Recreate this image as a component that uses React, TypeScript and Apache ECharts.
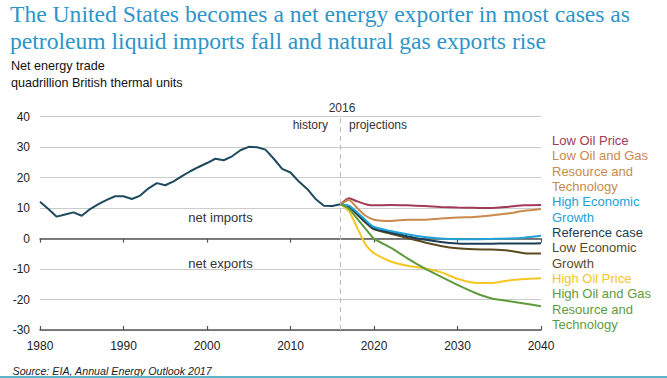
import React, { useEffect, useRef } from "react";
import * as echarts from "echarts";

const titleLines = [
  "The United States becomes a net energy exporter in most cases as",
  "petroleum liquid imports fall and natural gas exports rise",
];
const subtitleLines = ["Net energy trade", "quadrillion British thermal units"];
const sourceText = "Source: EIA, Annual Energy Outlook 2017";

const histYears = [
  1980, 1981, 1982, 1983, 1984, 1985, 1986, 1987, 1988, 1989, 1990, 1991, 1992,
  1993, 1994, 1995, 1996, 1997, 1998, 1999, 2000, 2001, 2002, 2003, 2004, 2005,
  2006, 2007, 2008, 2009, 2010, 2011, 2012, 2013, 2014, 2015, 2016,
];
const histValues = [
  12.1, 9.7, 7.2, 7.9, 8.6, 7.5, 9.7, 11.3, 12.7, 13.9, 13.9, 13.0, 14.1, 16.5,
  18.2, 17.5, 18.8, 20.5, 22.1, 23.5, 24.8, 26.2, 25.7, 27.0, 29.0, 30.1, 30.0,
  29.2, 26.2, 22.9, 21.7, 18.7, 16.3, 13.0, 10.8, 10.7, 11.3,
];

const projYears = [2016, 2017, 2018, 2019, 2020, 2022, 2024, 2026, 2028, 2030, 2032, 2034, 2036, 2038, 2040];
const lowOilPrice = [11.3, 13.2, 12.2, 11.3, 10.9, 11.0, 10.9, 10.7, 10.4, 10.2, 10.1, 10.0, 10.4, 10.9, 11.0];
const lowOilGas = [11.3, 12.7, 10.0, 7.5, 6.2, 5.8, 6.2, 6.2, 6.6, 6.9, 7.1, 7.6, 8.2, 9.1, 9.7];
const highEcon = [11.3, 10.8, 8.6, 6.0, 3.8, 2.5, 1.4, 0.5, 0.0, -0.2, -0.2, -0.1, 0.0, 0.3, 0.9];
const reference = [11.3, 10.6, 8.2, 5.5, 3.3, 2.0, 0.8, -0.3, -1.1, -1.6, -1.7, -1.7, -1.6, -1.6, -1.5];
const lowEcon = [11.3, 10.4, 7.8, 5.2, 3.0, 1.6, 0.2, -1.2, -2.4, -3.2, -3.5, -3.6, -3.9, -4.8, -4.9];
const highOilPrice = [11.3, 9.0, 3.5, -2.0, -4.8, -7.5, -8.9, -9.7, -11.0, -13.2, -14.5, -14.6, -13.8, -13.3, -13.0];
const highOilGas = [11.3, 9.8, 6.5, 3.2, 0.0, -3.0, -6.5, -9.7, -12.5, -15.2, -17.7, -19.6, -20.5, -21.3, -22.2];

const yTicks = { min: -30, max: 40, interval: 10 };
const xTicks = { min: 1980, max: 2040, interval: 10 };

const labelLines = [
  { text: "Low Oil Price", key: "lowOilPrice" },
  { text: "Low Oil and Gas", key: "lowOilGas" },
  { text: "Resource and", key: "lowOilGas" },
  { text: "Technology", key: "lowOilGas" },
  { text: "High Economic", key: "highEcon" },
  { text: "Growth", key: "highEcon" },
  { text: "Reference case", key: "reference" },
  { text: "Low Economic", key: "lowEcon" },
  { text: "Growth", key: "lowEcon" },
  { text: "High Oil Price", key: "highOilPrice" },
  { text: "High Oil and Gas", key: "highOilGas" },
  { text: "Resource and", key: "highOilGas" },
  { text: "Technology", key: "highOilGas" },
];

const colors: Record<string, string> = {
  history: "#1e4a5e",
  lowOilPrice: "#a33a55",
  lowOilGas: "#c98a4b",
  highEcon: "#22a2d8",
  reference: "#1b3d55",
  lowEcon: "#5a4a1e",
  highOilPrice: "#f5c623",
  highOilGas: "#5f9b3d",
};

const projSeries: { key: string; values: number[] }[] = [
  { key: "lowOilPrice", values: lowOilPrice },
  { key: "lowOilGas", values: lowOilGas },
  { key: "lowEcon", values: lowEcon },
  { key: "reference", values: reference },
  { key: "highEcon", values: highEcon },
  { key: "highOilPrice", values: highOilPrice },
  { key: "highOilGas", values: highOilGas },
];

const SANS = "'Liberation Sans', Arial, sans-serif";
const SERIF = "'Liberation Serif', 'Times New Roman', serif";

export default function App() {
  const ref = useRef<HTMLDivElement>(null);
  useEffect(() => {
    if (!ref.current) return;
    const chart = echarts.init(ref.current, null, { renderer: "svg" });
    const baseX = {
      type: "value" as const,
      min: xTicks.min,
      max: xTicks.max,
      interval: xTicks.interval,
      splitLine: { show: false },
    };
    const graphics: any[] = [];
    titleLines.forEach((t, i) => {
      graphics.push({
        type: "text",
        left: 10,
        top: 1.5 + i * 27,
        style: { text: t, font: `23.6px ${SERIF}`, fill: "#2e95c9" },
      });
    });
    subtitleLines.forEach((t, i) => {
      graphics.push({
        type: "text",
        x: 11,
        y: 65.5 + i * 17.5,
        style: { text: t, font: `12.6px ${SANS}`, fill: "#111", verticalAlign: "middle" },
      });
    });
    labelLines.forEach((l, i) => {
      graphics.push({
        type: "text",
        x: 552,
        y: 140.5 + i * 15.33,
        style: { text: l.text, font: `13px ${SANS}`, fill: colors[l.key], verticalAlign: "middle" },
      });
    });
    graphics.push(
      { type: "text", x: 342, y: 107.5, style: { text: "2016", font: `12px ${SANS}`, fill: "#333", align: "center", verticalAlign: "middle" } },
      { type: "text", x: 328, y: 124.5, style: { text: "history", font: `12px ${SANS}`, fill: "#333", align: "right", verticalAlign: "middle" } },
      { type: "text", x: 349, y: 124.5, style: { text: "projections", font: `12px ${SANS}`, fill: "#333", align: "left", verticalAlign: "middle" } },
      { type: "text", x: 220.5, y: 217.5, style: { text: "net imports", font: `13px ${SANS}`, fill: "#333", align: "center", verticalAlign: "middle" } },
      { type: "text", x: 220.5, y: 263.5, style: { text: "net exports", font: `13px ${SANS}`, fill: "#333", align: "center", verticalAlign: "middle" } },
      { type: "text", x: 12.5, y: 370.5, style: { text: sourceText, font: `italic 10.7px ${SANS}`, fill: "#222", verticalAlign: "middle" } },
      { type: "rect", shape: { x: 0, y: 376, width: 667, height: 2 }, style: { fill: "#5ab4c8" } }
    );

    chart.setOption({
      animation: false,
      backgroundColor: "#ffffff",
      grid: { left: 40, right: 126, top: 116.7, bottom: 48, containLabel: false },
      xAxis: [
        {
          ...baseX,
          position: "bottom",
          axisLine: { show: false, onZero: false },
          axisTick: { show: false },
          axisLabel: { fontSize: 12, color: "#222", fontFamily: SANS, margin: 10, formatter: (v: number) => String(v) },
        },
        {
          ...baseX,
          position: "bottom",
          axisLine: { show: true, onZero: true, lineStyle: { color: "#555", width: 1.5 } },
          axisTick: { show: true, inside: false, length: 4, lineStyle: { color: "#555", width: 1.2 } },
          axisLabel: { show: false },
        },
        {
          ...baseX,
          position: "bottom",
          axisLine: { show: true, onZero: true, lineStyle: { color: "#555", width: 1.5 } },
          axisTick: { show: true, inside: true, length: 4, lineStyle: { color: "#555", width: 1.2 } },
          axisLabel: { show: false },
        },
      ],
      yAxis: {
        type: "value",
        min: yTicks.min,
        max: yTicks.max,
        interval: yTicks.interval,
        axisLine: { show: false },
        axisTick: { show: false },
        splitLine: { lineStyle: { color: "#cccccc", width: 1 } },
        axisLabel: { fontSize: 12, color: "#222", fontFamily: SANS, margin: 10 },
      },
      series: [
        {
          type: "line",
          name: "history",
          data: histYears.map((y, i) => [y, histValues[i]]),
          showSymbol: false,
          lineStyle: { color: colors.history, width: 2 },
          z: 3,
          markLine: {
            silent: true,
            symbol: "none",
            label: { show: false },
            lineStyle: { color: "#bbbbbb", type: [5, 4], width: 1 },
            data: [{ xAxis: 2016 }],
          },
        },
        ...projSeries.map((s) => ({
          type: "line",
          name: s.key,
          data: projYears.map((y, i) => [y, s.values[i]]),
          showSymbol: false,
          smooth: 0.2,
          lineStyle: { color: colors[s.key], width: 2 },
          z: 3,
        })),
      ],
      graphic: graphics,
    });
    return () => chart.dispose();
  }, []);
  return (
    <div
      ref={ref}
      style={{ position: "fixed", left: 0, top: 0, width: 667, height: 378, background: "#fff" }}
    />
  );
}
